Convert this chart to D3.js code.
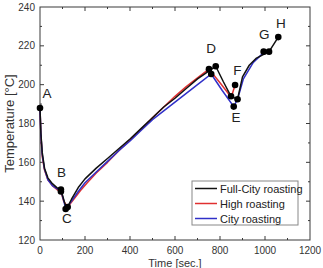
<!DOCTYPE html>
<html><head><meta charset="utf-8">
<script src="https://cdn.jsdelivr.net/npm/d3@7"></script>
<style>html,body{margin:0;padding:0;background:#fff;}svg{display:block;font-family:"Liberation Sans",Arial,sans-serif;}</style>
</head><body><svg id="c" width="323" height="268"></svg>
<script>
const xTicks = [0,200,400,600,800,1000,1200];
const yTicks = [120,140,160,180,200,220,240];
const seriesNames = ["Full-City roasting","High roasting","City roasting"];
const seriesColors = ["#111111","#e03030","#3030c8"];
const fullCity = [[0,188],[4,175],[10,165],[20,157],[35,152],[55,149],[75,147],[93,146],[105,141],[118,136],[140,141],[170,147],[200,151.5],[250,157],[300,162],[350,167],[400,172],[450,177.5],[500,183],[550,188.5],[600,193],[650,198],[700,203],[750,207],[781,209.5],[815,201.5],[849,194],[878,192.5],[900,204],[930,210],[960,213.5],[1018,217],[1059,224.5]];
const high = [[0,188],[4,174],[10,163],[20,156],[35,151],[55,148],[75,146],[93,145],[105,140],[123,137],[150,141],[180,145.5],[210,149.5],[250,154.5],[300,160],[350,166],[400,171.5],[450,177],[500,183],[550,188.5],[600,194],[650,199],[700,203.5],[751,208],[800,201],[850,193.5],[867,199.8]];
const city = [[0,188],[4,174],[10,164],[20,156.5],[35,151],[55,148],[75,146.5],[93,145.5],[105,140.5],[114,136],[140,140],[170,145],[200,149.5],[250,155],[300,160.5],[350,166],[400,171],[450,176.5],[500,182],[550,186.5],[600,191],[650,195.5],[700,200],[761,205.5],[810,197],[861,188.7],[878,192.5],[904,203],[948,211.5],[994,216.5],[1018,217]];
const markers = [[0,188],[93,146],[93,145],[114,136],[123,137],[751,208],[781,209.5],[761,205.5],[849,194],[861,188.7],[878,192.5],[867,199.8],[994,217],[1018,217],[1059,224.5]];
const labels = [["A",31,195.7],["B",96,155.2],["C",119,131.3],["D",760,218.9],["E",871,183.5],["F",877,207.6],["G",997,226.1],["H",1070,231.6]];

const svg = d3.select("#c");
const m = {l:40,r:13,t:7,b:28};
const W = 323, H = 268;
const x = d3.scaleLinear().domain([0,1200]).range([m.l, W-m.r]);
const y = d3.scaleLinear().domain([120,240]).range([H-m.b, m.t]);
const axisCol = "#3a3a3a";

svg.append("rect").attr("x",x(0)).attr("y",y(240)).attr("width",x(1200)-x(0)).attr("height",y(120)-y(240))
  .attr("fill","none").attr("stroke",axisCol).attr("stroke-width",1);

const xMinor = d3.range(100,1200,200);
const yMinor = d3.range(130,240,20);
function addTicks(vals, len){
  vals.forEach(v=>{
    svg.append("line").attr("x1",x(v)).attr("x2",x(v)).attr("y1",y(120)).attr("y2",y(120)-len).attr("stroke",axisCol);
    svg.append("line").attr("x1",x(v)).attr("x2",x(v)).attr("y1",y(240)).attr("y2",y(240)+len).attr("stroke",axisCol);
  });
}
addTicks(xTicks.slice(1,-1),4); addTicks(xMinor,2);
function addYTicks(vals,len){
  vals.forEach(v=>{
    svg.append("line").attr("y1",y(v)).attr("y2",y(v)).attr("x1",x(0)).attr("x2",x(0)+len).attr("stroke",axisCol);
    svg.append("line").attr("y1",y(v)).attr("y2",y(v)).attr("x1",x(1200)).attr("x2",x(1200)-len).attr("stroke",axisCol);
  });
}
addYTicks(yTicks.slice(1,-1),4); addYTicks(yMinor,2);

svg.selectAll(".xl").data(xTicks).enter().append("text")
  .attr("x",d=>x(d)).attr("y",y(120)+14).attr("text-anchor","middle")
  .attr("font-size",10).attr("fill","#333").text(d=>d);
svg.selectAll(".yl").data(yTicks).enter().append("text")
  .attr("x",x(0)-5).attr("y",d=>y(d)+3.5).attr("text-anchor","end")
  .attr("font-size",10).attr("fill","#333").text(d=>d);

svg.append("text").attr("x",175).attr("y",267).attr("text-anchor","middle").attr("font-size",11).attr("fill","#333").text("Time [sec.]");
svg.append("text").attr("transform",`translate(14,${(y(120)+y(240))/2}) rotate(-90)`).attr("text-anchor","middle").attr("font-size",13).attr("fill","#333").text("Temperature [°C]");

const line = d3.line().x(d=>x(d[0])).y(d=>y(d[1]));
const data = [high, city, fullCity];
const cols = [seriesColors[1], seriesColors[2], seriesColors[0]];
data.forEach((s,i)=>{
  svg.append("path").attr("d",line(s)).attr("fill","none").attr("stroke",cols[i]).attr("stroke-width",1.5).attr("stroke-linejoin","round");
});

svg.selectAll(".mk").data(markers).enter().append("circle")
  .attr("cx",d=>x(d[0])).attr("cy",d=>y(d[1])).attr("r",3.3).attr("fill","#000");

svg.selectAll(".lb").data(labels).enter().append("text")
  .attr("x",d=>x(d[1])).attr("y",d=>y(d[2])+5).attr("text-anchor","middle")
  .attr("font-size",13.5).attr("fill","#222").text(d=>d[0]);

const lg = svg.append("g");
lg.append("rect").attr("x",192).attr("y",181).attr("width",106).attr("height",44).attr("fill","#fff").attr("stroke","#888");
seriesNames.forEach((n,i)=>{
  const yy = 188.5 + i*15;
  lg.append("line").attr("x1",195).attr("x2",217).attr("y1",yy).attr("y2",yy).attr("stroke",seriesColors[i]).attr("stroke-width",1.5);
  lg.append("text").attr("x",220).attr("y",yy+4).attr("font-size",11).attr("fill","#222").text(n);
});
</script></body></html>
